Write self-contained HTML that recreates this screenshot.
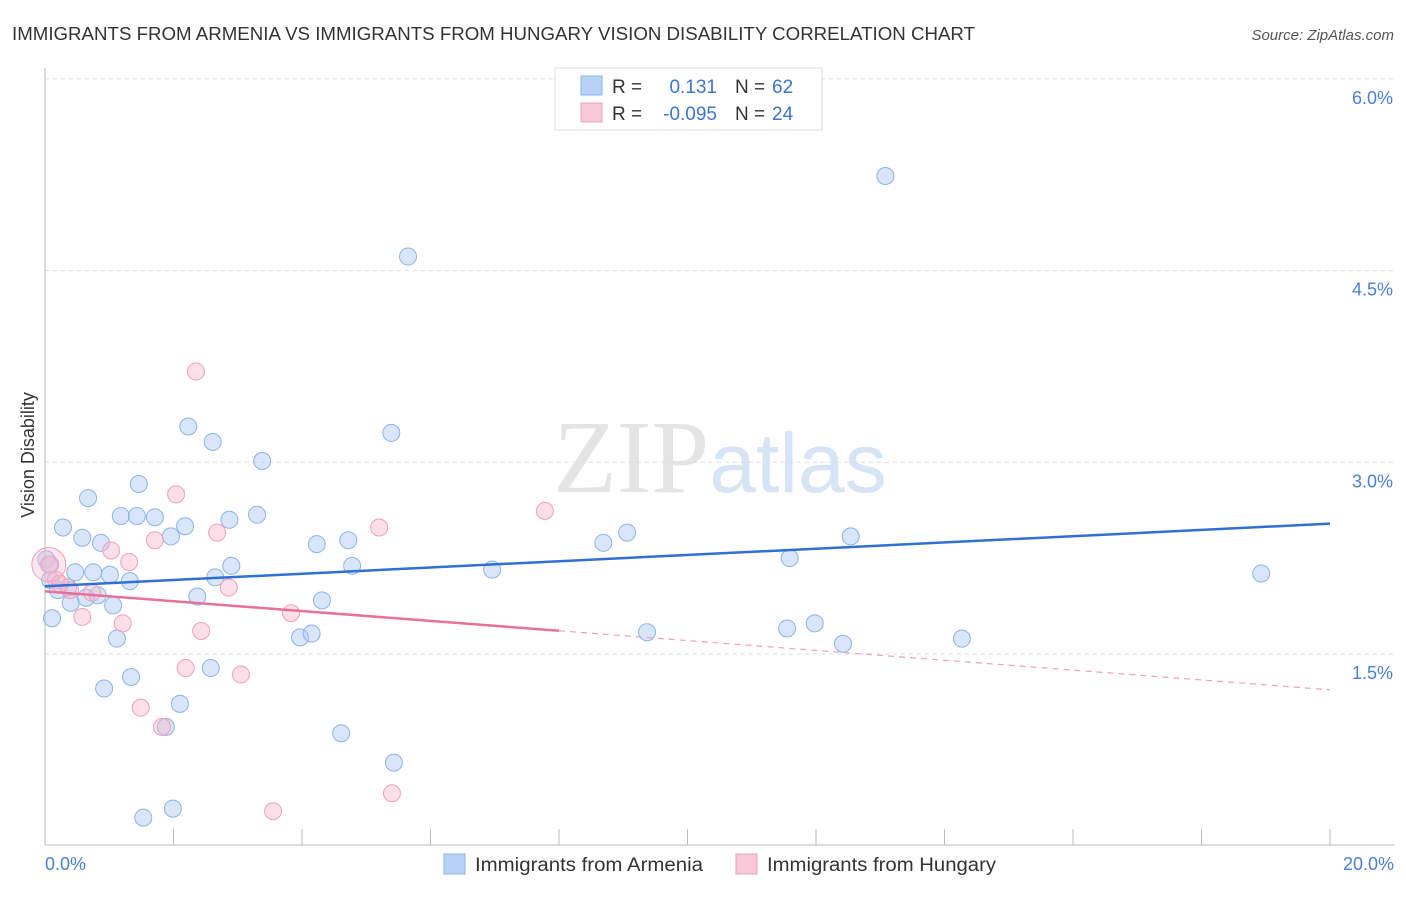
<!DOCTYPE html>
<html><head><meta charset="utf-8">
<style>
body{margin:0;background:#fff;font-family:"Liberation Sans",sans-serif;}
svg text{font-family:"Liberation Sans",sans-serif;}
</style></head>
<body>
<svg id="chart" width="1406" height="892" viewBox="0 0 1406 892" xmlns="http://www.w3.org/2000/svg">
<text x="12" y="40" font-size="18" fill="#333" textLength="963" lengthAdjust="spacingAndGlyphs">IMMIGRANTS FROM ARMENIA VS IMMIGRANTS FROM HUNGARY VISION DISABILITY CORRELATION CHART</text>
<text x="1394" y="40" font-size="15" fill="#555" text-anchor="end" font-style="italic">Source: ZipAtlas.com</text>
<text x="720" y="492" font-size="104" text-anchor="middle" fill="#e4e4e4"><tspan font-family="Liberation Serif">ZIP</tspan><tspan fill="#d6e4f5" font-size="84">atlas</tspan></text>
<g id="grid"></g>
<g id="axes"></g>
<g id="points"></g>
<g id="trends"></g>
<text transform="translate(34,455) rotate(-90)" font-size="18" fill="#333" text-anchor="middle">Vision Disability</text>
<text x="45" y="870" font-size="18" fill="#4a7fd6">0.0%</text>
<text x="1394" y="870" font-size="18" fill="#4a7fd6" text-anchor="end">20.0%</text>
<g>
<rect x="555" y="68" width="267" height="62" fill="#fff" stroke="#ddd"/>
<rect x="581" y="76" width="21" height="19" fill="#b8d2f5" stroke="#8ab4e8"/>
<rect x="581" y="103" width="21" height="19" fill="#f9c8d6" stroke="#f0a0b8"/>
<text x="612" y="93" font-size="19" fill="#333">R =</text>
<text x="717" y="93" font-size="19" fill="#3c74d0" text-anchor="end">0.131</text>
<text x="735" y="93" font-size="19" fill="#333">N =</text>
<text x="772" y="93" font-size="19" fill="#3c74d0">62</text>
<text x="612" y="120" font-size="19" fill="#333">R =</text>
<text x="717" y="120" font-size="19" fill="#3c74d0" text-anchor="end">-0.095</text>
<text x="735" y="120" font-size="19" fill="#333">N =</text>
<text x="772" y="120" font-size="19" fill="#3c74d0">24</text>
</g>
<g>
<rect x="444" y="854" width="21" height="20" fill="#b8d2f5" stroke="#8ab4e8"/>
<text x="475" y="871" font-size="19" fill="#333" textLength="228" lengthAdjust="spacingAndGlyphs">Immigrants from Armenia</text>
<rect x="736" y="854" width="21" height="20" fill="#f9c8d6" stroke="#f0a0b8"/>
<text x="767" y="871" font-size="19" fill="#333" textLength="229" lengthAdjust="spacingAndGlyphs">Immigrants from Hungary</text>
</g>
</svg>
<script>
const yTicks=[1.5,3.0,4.5,6.0];
const yTickLabels=["1.5%","3.0%","4.5%","6.0%"];
const xTicks=[0,2,4,6,8,10,12,14,16,18,20];
const armeniaX=[13.08,5.65,5.39,2.23,2.61,3.38,1.46,0.67,0.28,1.18,1.43,1.71,2.18,2.87,3.30,0.58,0.87,1.96,4.23,4.72,4.78,0.02,0.08,0.47,0.75,1.01,1.32,2.65,2.90,0.20,0.36,0.64,0.82,0.40,1.06,2.37,4.31,0.11,1.12,3.97,4.15,1.34,0.92,2.58,2.10,1.88,4.61,5.43,1.53,1.99,6.96,8.69,9.06,9.37,11.59,11.55,11.98,12.42,12.54,14.27,18.93,0.08];
const armeniaY=[5.24,4.61,3.23,3.28,3.16,3.01,2.83,2.72,2.49,2.58,2.58,2.57,2.50,2.55,2.59,2.41,2.37,2.42,2.36,2.39,2.19,2.24,2.08,2.14,2.14,2.12,2.07,2.10,2.19,2.00,2.02,1.94,1.96,1.90,1.88,1.95,1.92,1.78,1.62,1.63,1.66,1.32,1.23,1.39,1.11,0.93,0.88,0.65,0.22,0.29,2.16,2.37,2.45,1.67,2.25,1.70,1.74,1.58,2.42,1.62,2.13,2.20];
const hungaryX=[2.35,2.04,7.78,5.20,2.68,1.71,1.03,1.31,0.06,0.17,2.86,0.39,0.73,0.58,3.83,1.21,2.43,2.19,3.05,1.49,1.82,3.55,5.40,0.23];
const hungaryY=[3.71,2.75,2.62,2.49,2.45,2.39,2.31,2.22,2.20,2.08,2.02,2.00,1.98,1.79,1.82,1.74,1.68,1.39,1.34,1.08,0.93,0.27,0.41,2.05];
const X0=45,X1=1330,Y0=845.7,PXPER=127.8;
const xs=v=>X0+(X1-X0)*v/20, ys=v=>Y0-v*PXPER;
const NS="http://www.w3.org/2000/svg";
function mk(tag,attrs,parent){const e=document.createElementNS(NS,tag);for(const k in attrs)e.setAttribute(k,attrs[k]);parent.appendChild(e);return e;}
const grid=document.getElementById('grid'),axes=document.getElementById('axes'),pts=document.getElementById('points'),tr=document.getElementById('trends');
yTicks.forEach((t,i)=>{
 const l=mk('line',{x1:X0,x2:1394,y1:ys(t),y2:ys(t),stroke:'#ddd','stroke-dasharray':'4,4'},grid);
 
 
 const tx=mk('text',{x:1393,y:ys(t)+25,'font-size':18,fill:'#4a7fd6','text-anchor':'end'},grid);
 tx.textContent=yTickLabels[i];
 
 
});
const ya=mk('line',{x1:X0,x2:X0,y1:68,y2:845,stroke:'#bbb'},axes);


const xa=mk('line',{x1:X0,x2:1394,y1:845,y2:845,stroke:'#bbb'},axes);


xTicks.forEach(t=>{const l=mk('line',{x1:xs(t),x2:xs(t),y1:829,y2:845,stroke:'#bbb'},axes);
 
 });
function plot(X,Y,fill,stroke,name){X.forEach((x,i)=>{const c=mk('circle',{cx:xs(x),cy:ys(Y[i]),r:8.5,fill:fill,stroke:stroke,'stroke-width':1},pts);
 
 });}
plot(armeniaX,armeniaY,'rgba(170,200,242,0.45)','#8ab4e8','armenia-point');
plot(hungaryX,hungaryY,'rgba(248,185,205,0.45)','#f0a0b8','hungary-point');
const big=mk('circle',{cx:xs(0.06),cy:ys(2.2),r:17,fill:'rgba(248,185,205,0.35)',stroke:'#f0a0b8'},pts);


const blueLine=[2.03,2.52],pinkLine=[1.99,1.22];
const bl=mk('line',{x1:xs(0),y1:ys(blueLine[0]),x2:xs(20),y2:ys(blueLine[1]),stroke:'#2f6fd6','stroke-width':2.5},tr);


const pm=pinkLine[0]+(pinkLine[1]-pinkLine[0])*8/20;
const ps=mk('line',{x1:xs(0),y1:ys(pinkLine[0]),x2:xs(8),y2:ys(pm),stroke:'#e8709a','stroke-width':2.5},tr);


const pd=mk('line',{x1:xs(8),y1:ys(pm),x2:xs(20),y2:ys(pinkLine[1]),stroke:'#f0a0b8','stroke-width':1.2,'stroke-dasharray':'6,5'},tr);


</script>
</body></html>
